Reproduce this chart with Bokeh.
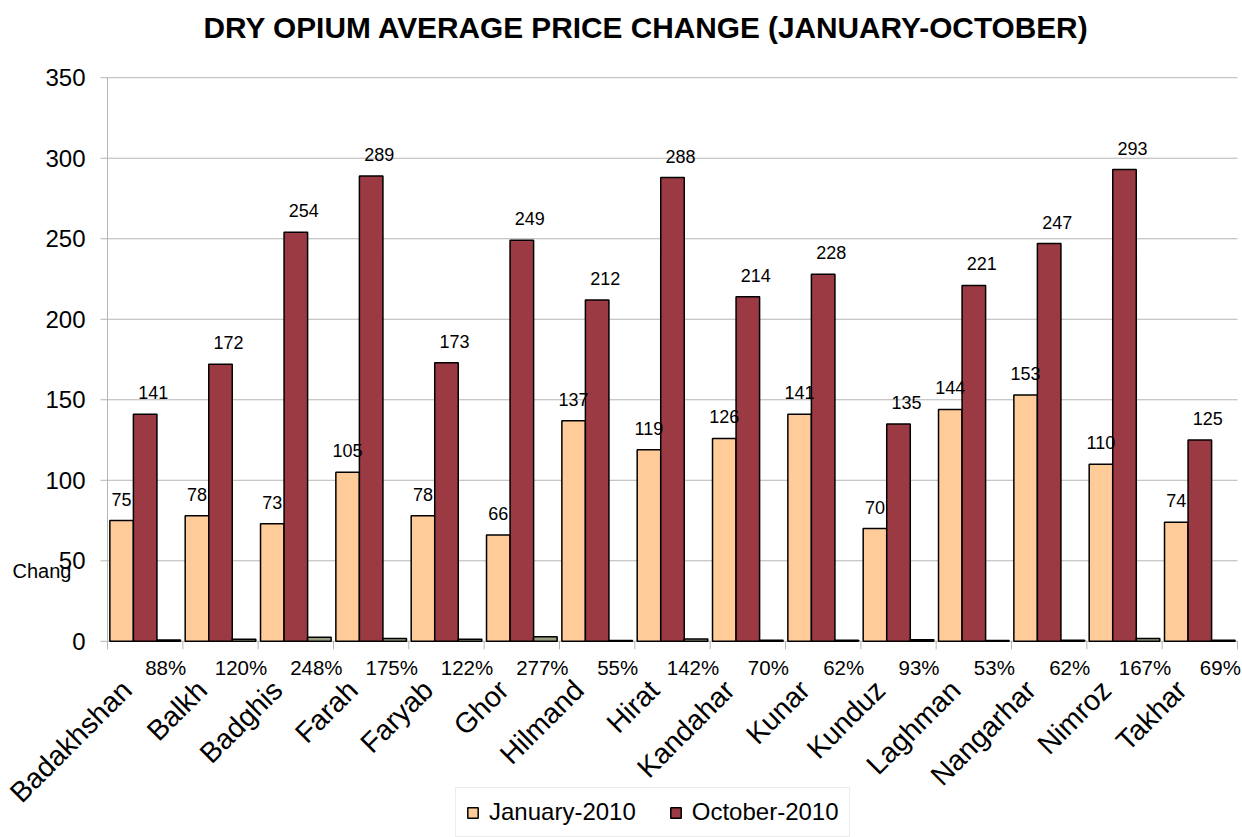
from bokeh.plotting import figure
from bokeh.models import (ColumnDataSource, Range1d, LabelSet, Label,
                          Legend, LegendItem)
from bokeh.core.properties import value
from bokeh.embed import file_html
from bokeh.resources import INLINE

# ---------------- data ----------------
provinces = ["Badakhshan", "Balkh", "Badghis", "Farah", "Faryab", "Ghor", "Hilmand",
             "Hirat", "Kandahar", "Kunar", "Kunduz", "Laghman", "Nangarhar", "Nimroz", "Takhar"]
jan_2010 = [75, 78, 73, 105, 78, 66, 137, 119, 126, 141, 70, 144, 153, 110, 74]
oct_2010 = [141, 172, 254, 289, 173, 249, 212, 288, 214, 228, 135, 221, 247, 293, 125]
change_pct = [88, 120, 248, 175, 122, 277, 55, 142, 70, 62, 93, 53, 62, 167, 69]
y_ticks = [0, 50, 100, 150, 200, 250, 300, 350]
change_caption = "Chang"

# ---------------- style / layout ----------------
FONT = "Liberation Sans"
JAN_COLOR = "#FFCC99"
OCT_COLOR = "#9C3A43"
CHG_COLOR = "#9A9E80"
GRID = "#B5B5B5"

PX_Y = 1.6143          # pixels per price unit
PX_X = 75.333          # pixels per province group
n = len(provinces)
idx = list(range(n))
bw = 0.3125

Y_TOP, Y_BOT = 365.67, -121.85                 # frame covers the label area below the bars
X_LEFT, X_RIGHT = -107 / PX_X, 1135 / PX_X      # and the tick-label area on the left

tick_len = 8 / PX_Y
grid_x0 = -7 / PX_X
ylab_x = -22 / PX_X
caption_x = -95 / PX_X
caption_y = 43.75
pct_y = -26 / PX_Y
cat_y = -32.5 / PX_Y

src = ColumnDataSource(dict(
    jan_x=[i + 0.1875 for i in idx],
    oct_x=[i + 0.5 for i in idx],
    chg_x=[i + 0.8125 for i in idx],
    cat_x=[i + 0.104 for i in idx],
    jan=jan_2010,
    oct=oct_2010,
    chg=[c / 100 for c in change_pct],
    jan_txt=[str(v) for v in jan_2010],
    oct_txt=[str(v) for v in oct_2010],
    chg_txt=[f"{c}%" for c in change_pct],
    chg_y=[pct_y] * n,
    cat=provinces,
    cat_y=[cat_y] * n,
))
bnd = ColumnDataSource(dict(x=[float(i) for i in range(n + 1)],
                            y0=[0.0] * (n + 1), y1=[-tick_len] * (n + 1)))
ysrc = ColumnDataSource(dict(y=y_ticks, x0=[grid_x0] * len(y_ticks),
                             x1=[float(n)] * len(y_ticks), lx=[ylab_x] * len(y_ticks),
                             txt=[str(t) for t in y_ticks]))

p = figure(width=1242, height=837, x_range=Range1d(X_LEFT, X_RIGHT),
           y_range=Range1d(Y_BOT, Y_TOP), x_axis_location=None, y_axis_location=None,
           output_backend="svg", toolbar_location=None,
           min_border_left=0, min_border_right=0, min_border_top=50, min_border_bottom=0)
p.outline_line_color = None
p.background_fill_color = "white"
p.border_fill_color = "white"
p.grid.visible = False

# title
p.title.text = "DRY OPIUM AVERAGE PRICE CHANGE (JANUARY-OCTOBER)"
p.title.text_font = FONT
p.title.text_font_size = "29.8px"
p.title.text_font_style = "bold"
p.title.text_color = "black"
p.title.align = "left"
p.title.offset = 203
p.title.standoff = 17

# horizontal grid lines (the one at 0 is the category axis line)
p.segment(x0="x0", y0="y", x1="x1", y1="y", source=ysrc, line_color=GRID, line_width=1)
# value axis line and category boundary ticks
p.segment(x0=[0.0], y0=[0.0], x1=[0.0], y1=[y_ticks[-1]], line_color=GRID, line_width=1)
p.segment(x0="x", y0="y0", x1="x", y1="y1", source=bnd, line_color=GRID, line_width=1)

# bars
r_jan = p.vbar(x="jan_x", top="jan", width=bw, source=src, fill_color=JAN_COLOR,
               line_color="black", line_width=1.5)
r_oct = p.vbar(x="oct_x", top="oct", width=bw, source=src, fill_color=OCT_COLOR,
               line_color="black", line_width=1.5)
r_chg = p.vbar(x="chg_x", top="chg", width=bw, source=src, fill_color=CHG_COLOR,
               line_color="black", line_width=1.5)

# value-axis tick labels
p.add_layout(LabelSet(x="lx", y="y", text="txt", source=ysrc, text_align="right",
                      text_baseline="middle", text_font=value(FONT),
                      text_font_size="24px", text_color="black"))
# truncated caption at the left
p.add_layout(Label(x=caption_x, y=caption_y, text=change_caption, text_font=FONT,
                   text_font_size="20px", text_align="left", text_baseline="middle",
                   text_color="black"))

# value labels
p.add_layout(LabelSet(x="jan_x", y="jan", text="jan_txt", source=src, text_align="center",
                      text_baseline="alphabetic", y_offset=15, text_font=value(FONT),
                      text_font_size="18px", text_color="black"))
p.add_layout(LabelSet(x="oct_x", y="oct", text="oct_txt", source=src, text_align="center",
                      text_baseline="alphabetic", y_offset=15, x_offset=8,
                      text_font=value(FONT), text_font_size="18px", text_color="black"))
# change labels under the axis
p.add_layout(LabelSet(x="chg_x", y="chg_y", text="chg_txt", source=src, text_align="center",
                      text_baseline="middle", x_offset=-3, text_font=value(FONT),
                      text_font_size="20.5px", text_color="black"))
# category labels, rotated 45 degrees
p.add_layout(LabelSet(x="cat_x", y="cat_y", text="cat", source=src, text_align="right",
                      text_baseline="top", angle=0.785398, text_font=value(FONT),
                      text_font_size="28.5px", text_color="black"))

legend = Legend(items=[LegendItem(label="January-2010", renderers=[r_jan]),
                       LegendItem(label="October-2010", renderers=[r_oct])],
                orientation="horizontal", location=(455, 0),
                label_text_font=FONT, label_text_font_size="24px", label_text_color="black",
                glyph_width=13, glyph_height=13, spacing=33, padding=10, margin=0,
                border_line_color="#D9D9D9", label_standoff=10)
p.add_layout(legend, "center")

open("out.html", "w").write(file_html(p, INLINE))
